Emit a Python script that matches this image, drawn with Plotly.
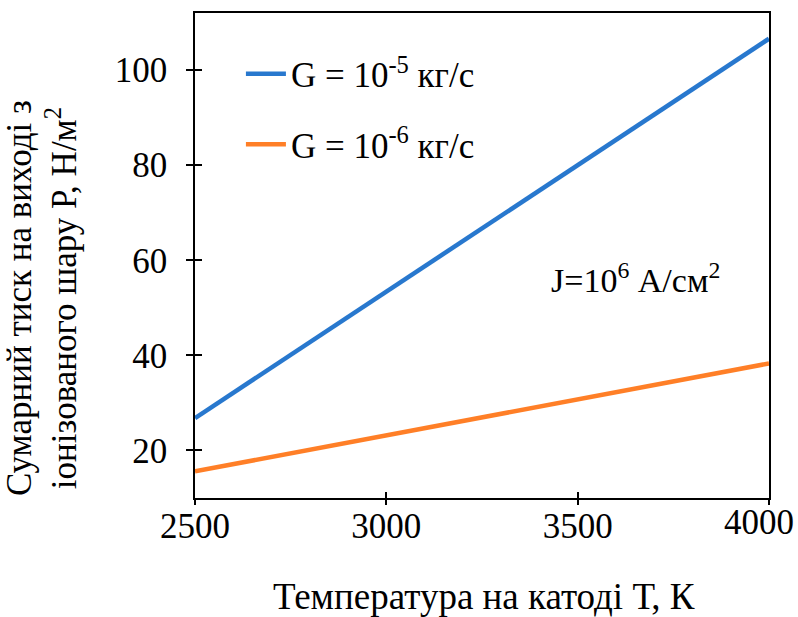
import plotly.graph_objects as go

# Cathode temperature, K
temperature = [2500, 3000, 3500, 4000]
# Total pressure at the exit of the ionized layer, N/m^2
pressure_g5 = [26.8, 53.4, 80.2, 106.6]
pressure_g6 = [15.6, 23.2, 30.7, 38.3]

series_names = ["G = 10<sup>-5</sup> кг/с", "G = 10<sup>-6</sup> кг/с"]
series_colors = ["#2878CE", "#FF7F27"]

x_ticks = [2500, 3000, 3500, 4000]
y_ticks = [20, 40, 60, 80, 100]
x_range = [2500, 4000]
y_range = [10, 112]

FONT = "Liberation Serif"

fig = go.Figure()
for name, ys, col, grp in zip(series_names, [pressure_g5, pressure_g6], series_colors, ["a", "b"]):
    fig.add_trace(go.Scatter(
        x=temperature, y=ys, mode="lines", name=name, legendgroup=grp,
        line=dict(color=col, width=4.5),
    ))

# invisible traces on the overlay axes (outer tick halves, last x label)
for xa in ["x2", "x3"]:
    fig.add_trace(go.Scatter(x=[x_range[0]], y=[y_range[0]], xaxis=xa, yaxis="y2",
                             mode="markers", marker=dict(opacity=0), showlegend=False,
                             hoverinfo="skip"))

tick_font = dict(family=FONT, size=35, color="black")
plain = dict(showgrid=False, zeroline=False, showline=False, automargin=False,
             tickcolor="black", tickwidth=2)

fig.update_layout(
    width=798, height=617,
    margin=dict(l=195, r=29, t=13, b=119),
    paper_bgcolor="white", plot_bgcolor="white",
    font=dict(family=FONT, color="black"),
    xaxis=dict(range=x_range, tickvals=x_ticks[:-1], ticks="inside", ticklen=6,
               showgrid=False, zeroline=False, showline=True, linecolor="black",
               linewidth=1.6, tickcolor="black", tickwidth=2, mirror=True,
               tickfont=tick_font, ticklabelstandoff=-4, automargin=False),
    yaxis=dict(range=y_range, tickvals=y_ticks, ticks="outside", ticklen=7,
               showgrid=False, zeroline=False, showline=True, linecolor="black",
               linewidth=1.6, tickcolor="black", tickwidth=2, mirror=True,
               tickfont=tick_font, ticklabelstandoff=12, automargin=False),
    xaxis2=dict(range=x_range, tickvals=x_ticks, ticks="outside", ticklen=6,
                showticklabels=False, overlaying="x", **plain),
    xaxis3=dict(range=x_range, tickvals=x_ticks[-1:], ticks="inside", ticklen=6,
                showticklabels=True, tickfont=tick_font, ticklabelstandoff=0,
                ticklabelshift=-10, ticklabeloverflow="allow",
                overlaying="x", **plain),
    yaxis2=dict(range=y_range, tickvals=y_ticks, ticks="inside", ticklen=7,
                showticklabels=False, overlaying="y", **plain),
    showlegend=True,
    legend=dict(x=0.08, y=0.935, xanchor="left", yanchor="top",
                bgcolor="rgba(0,0,0,0)", tracegroupgap=22,
                font=dict(family=FONT, size=35, color="black"), itemwidth=40),
)

fig.add_annotation(text="Сумарний тиск на виході з<br>іонізованого шару Р, Н/м<sup>2</sup>",
                   xref="paper", yref="paper", x=-0.267, y=0.412,
                   xanchor="center", yanchor="middle",
                   textangle=-90, showarrow=False,
                   font=dict(family=FONT, size=35, color="black"))
fig.add_annotation(text="Температура на катоді Т, К",
                   xref="paper", yref="paper", x=0.503, y=-0.203,
                   xanchor="center", yanchor="middle",
                   showarrow=False, font=dict(family=FONT, size=37, color="black"))
fig.add_annotation(text="J=10<sup>6</sup> А/см<sup>2</sup>",
                   x=3652, y=56.3, showarrow=False,
                   font=dict(family=FONT, size=34, color="black"))

fig.write_html("out.html")
